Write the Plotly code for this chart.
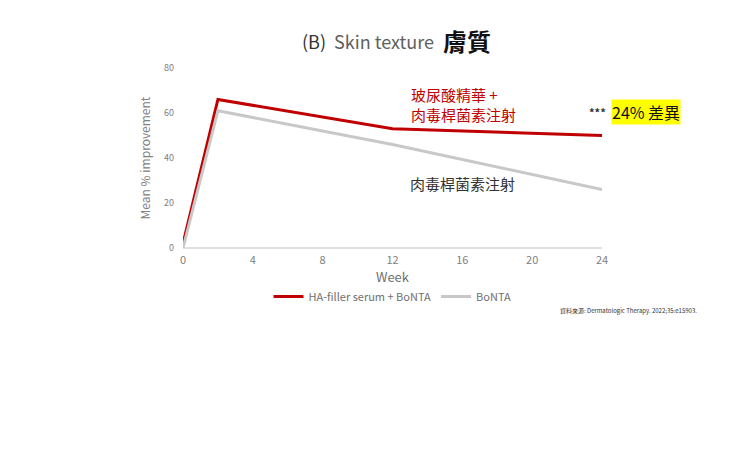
import plotly.graph_objects as go

weeks = [0, 2, 12, 24]
ha_bonta = [2, 66, 53, 50]
bonta = [0, 61, 46, 26]
x_ticks = [0, 4, 8, 12, 16, 20, 24]
y_ticks = [0, 20, 40, 60, 80]

fig = go.Figure()
fig.add_trace(go.Scatter(x=weeks, y=ha_bonta, mode="lines", name="HA-filler serum + BoNTA",
                         line=dict(color="#c00000", width=3)))
fig.add_trace(go.Scatter(x=weeks, y=bonta, mode="lines", name="BoNTA",
                         line=dict(color="#c8c8c8", width=3)))

F = "Noto Sans CJK TC"
L, R, T, B = 175, 146, 60, 223
PW, PH = 740 - L - R, 463 - T - B
fig.update_layout(
    width=740, height=463, paper_bgcolor="white", plot_bgcolor="white",
    margin=dict(l=L, r=R, t=T, b=B, autoexpand=False),
    font=dict(family=F, color="#808080", size=10),
    showlegend=True,
    legend=dict(orientation="h", x=0.5, xanchor="center", y=-0.27, yanchor="middle",
                font=dict(size=11, color="#707070")),
    xaxis=dict(range=[0, 24], tickvals=x_ticks, showgrid=False, zeroline=False,
               showline=False, ticklabelstandoff=4,
               title=dict(text="Week", standoff=2, font=dict(size=13, color="#707070")),
               ticks="", tickfont=dict(size=11, color="#808080")),
    yaxis=dict(range=[0, 80], tickvals=y_ticks, showgrid=False, zeroline=True,
               zerolinecolor="#e0e0e0", showline=False, ticks="", ticklabelstandoff=8,
               title=dict(text="Mean % improvement", standoff=10, font=dict(size=12, color="#808080")),
               tickfont=dict(size=9, color="#808080")),
)
ann = [
    dict(x=360, y=33, text="(B)  <span style='color:#606060'>Skin texture</span>", size=18, color="#333333"),
    dict(x=459, y=32, text="<b>膚質</b>", size=24, color="#111111"),
    dict(x=455, y=97, text="玻尿酸精華 +<br>肉毒桿菌素注射", size=15, color="#c00000"),
    dict(x=454, y=175, text="肉毒桿菌素注射", size=15, color="#333333"),
    dict(x=589, y=104, text="<b>***</b>", size=11, color="#333333"),
    dict(x=638, y=104, text="24% 差異", size=16, color="#111111", bg="#ffff00"),
    dict(x=620, y=302, text="資料來源: Dermatologic Therapy. 2022;35:e15903.", size=6, color="#333333"),
]
for a in ann:
    fig.add_annotation(x=(a["x"] - L) / PW, y=1 - (a["y"] - T) / PH, xref="paper", yref="paper",
                       text=a["text"], showarrow=False, xanchor="center", yanchor="middle",
                       align="left", font=dict(family=F, size=a["size"], color=a["color"]),
                       bgcolor=a.get("bg"), borderpad=0)
fig.write_html("out.html")
